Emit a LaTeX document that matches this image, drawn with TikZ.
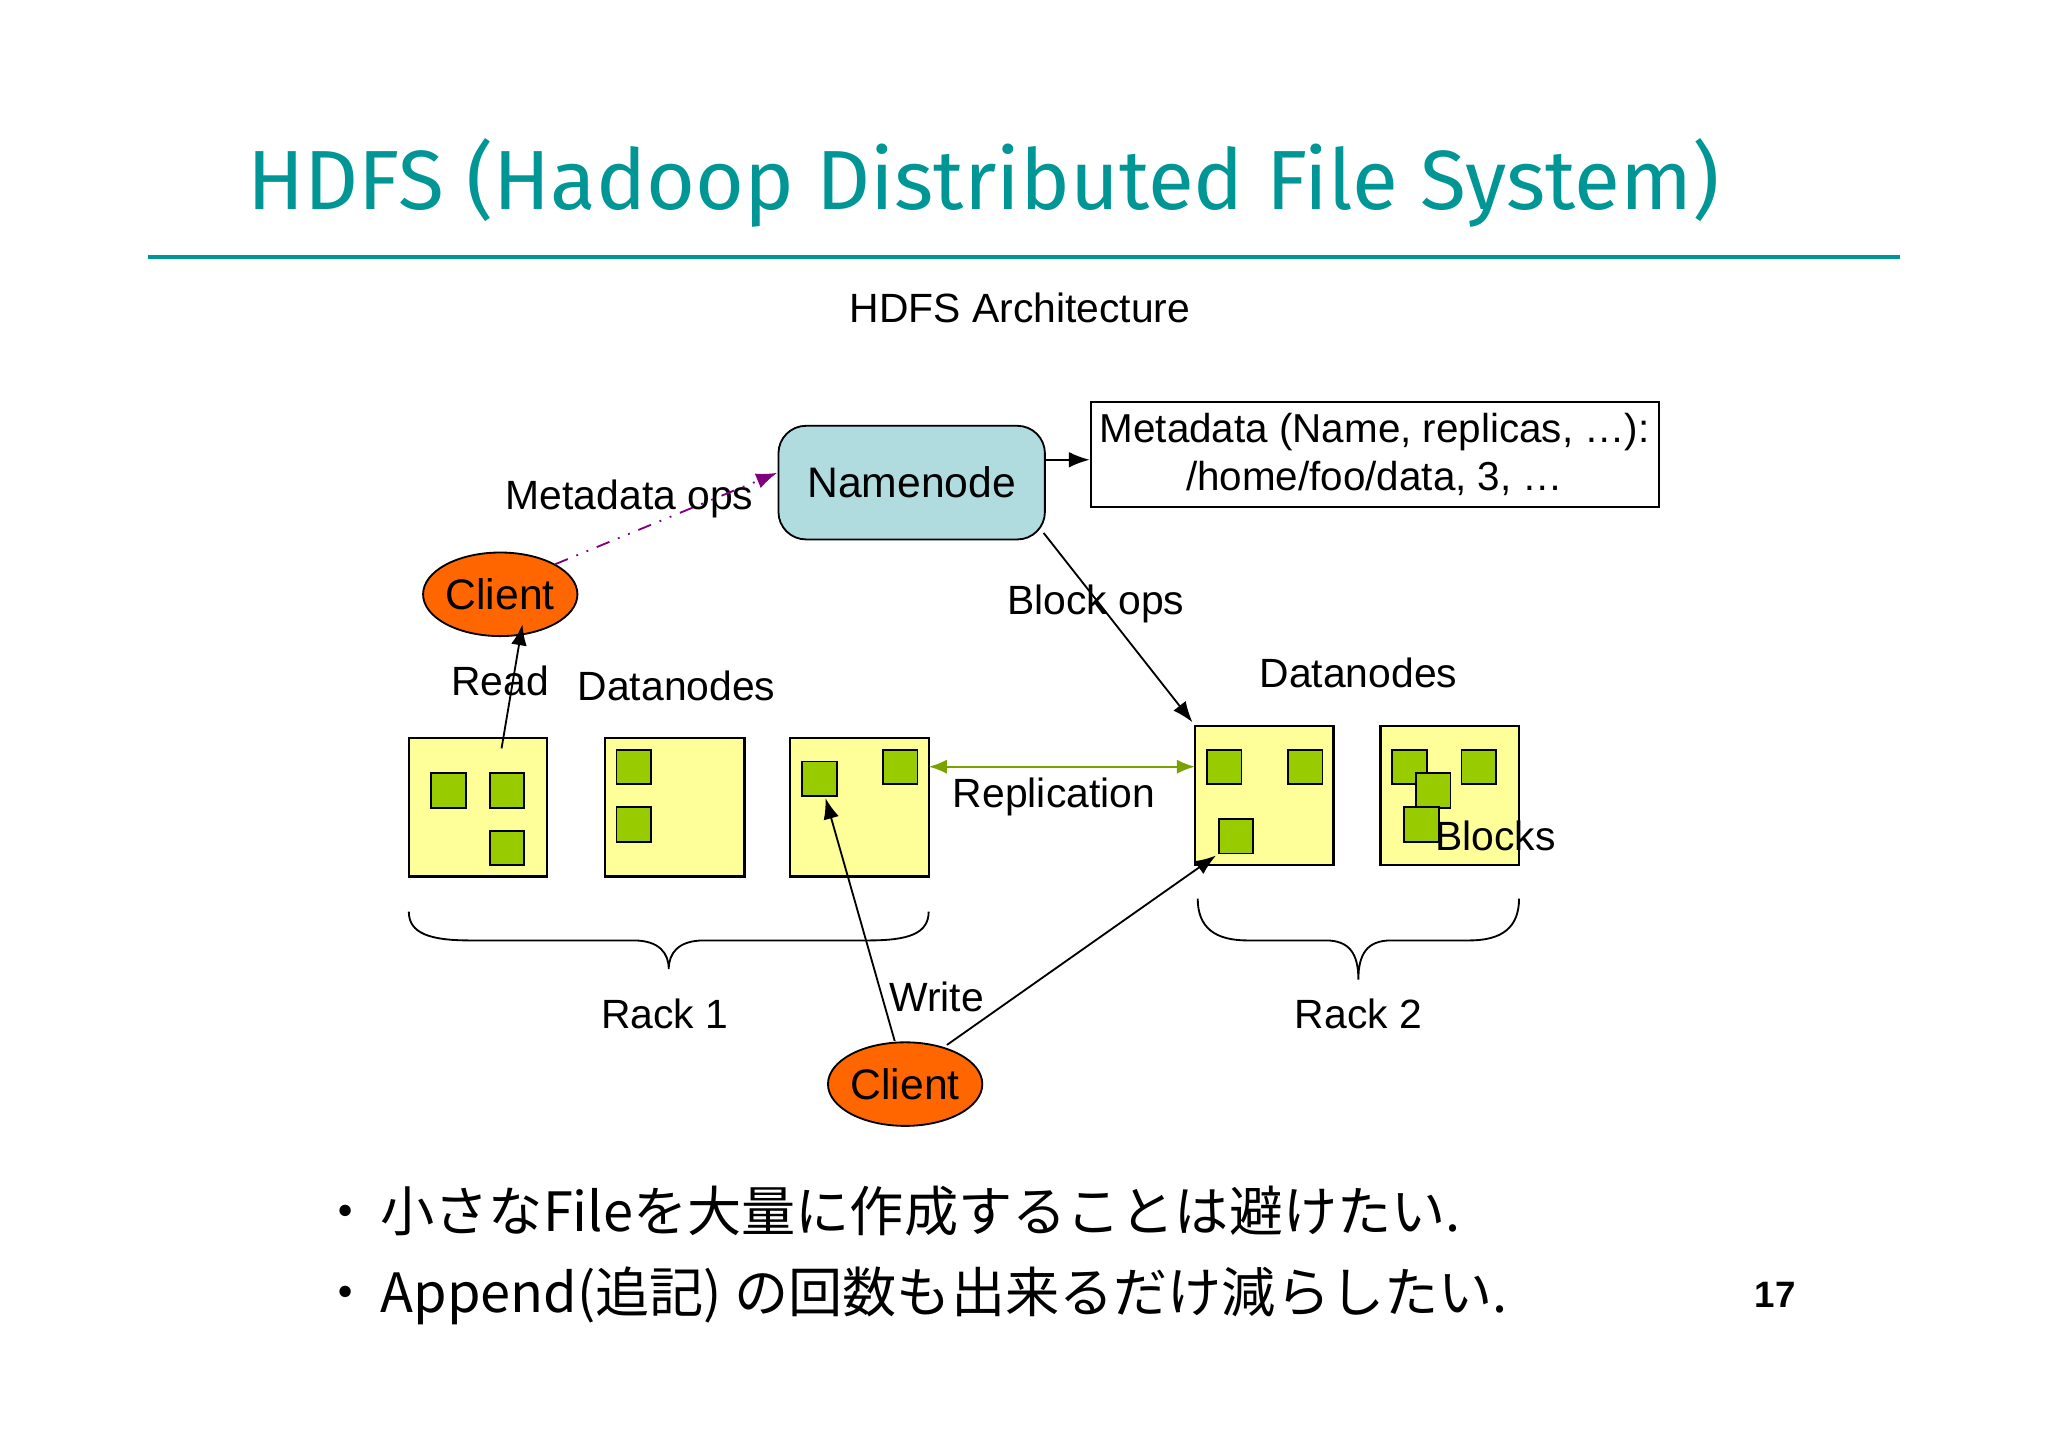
\documentclass[tikz,border=0pt]{standalone}
\usepackage{fontspec}
\setmainfont{Liberation Sans}
\newfontfamily\titlefont{Fira Sans}
\newfontfamily\jpfont{Noto Sans CJK JP}
\usetikzlibrary{arrows.meta,shapes.geometric}
\definecolor{teal1}{RGB}{0,150,150}
\definecolor{nnblue}{RGB}{176,220,224}
\definecolor{dnyel}{RGB}{255,255,153}
\definecolor{blk}{RGB}{153,204,0}
\definecolor{orng}{RGB}{255,102,0}
\definecolor{purp}{RGB}{128,0,128}
\tikzset{
 lbl/.style={font=\fontsize{8.9}{11}\selectfont,inner sep=0pt},
 dn/.style={draw=black,fill=dnyel,line width=0.5pt},
 blkbox/.style={draw=black,fill=blk,line width=0.4pt},
 client/.style={ellipse,draw=black,fill=orng,minimum width=1.06cm,minimum height=0.64cm,inner sep=0pt,font=\fontsize{9.3}{12}\selectfont},
 arr/.style={-{Latex[length=1.6mm,width=1.2mm]},line width=0.4pt},
}
\newcommand{\sq}[3]{\draw[blkbox] (#1/100,-#2/100) rectangle ++(0.265,-0.265) node[coordinate] (#3) {};}
\begin{document}
\begin{tikzpicture}
\useasboundingbox[fill=white] (0,0) rectangle (15.68,-11.08);
\node[text=teal1,font=\titlefont\fontsize{18.3}{22}\selectfont,inner sep=0pt] (title) at (7.53,-1.40) {HDFS (Hadoop Distributed File System)};
\draw[teal1,line width=0.8pt] (1.13,-1.97) coordinate (l1) -- (14.55,-1.97) coordinate (l2);
\node[lbl] (arch) at (7.81,-2.36) {HDFS Architecture};
\node[draw=black,fill=nnblue,rounded corners=6pt,minimum width=2.04cm,minimum height=0.87cm,font=\fontsize{9.3}{12}\selectfont] (nn) at (6.98,-3.695) {Namenode};
\node[draw=black,fill=white,minimum width=4.35cm,minimum height=0.80cm,align=center,font=\fontsize{8.8}{10.5}\selectfont,inner sep=0pt] (meta) at (10.525,-3.48) {Metadata (Name, replicas, \ldots):\\/home/foo/data, 3, \ldots};
\draw[arr] (nn.east |- 0,-3.52) -- (meta.west |- 0,-3.52);
\node[client] (c1) at (3.83,-4.55) {Client};
\node[client] (c2) at (6.93,-8.30) {Client};
% datanodes
\draw[dn] (3.13,-5.65) rectangle (4.19,-6.71) node[coordinate] (d1) {};
\draw[dn] (4.63,-5.65) rectangle (5.70,-6.71) node[coordinate] (d2) {};
\draw[dn] (6.05,-5.65) rectangle (7.11,-6.71) node[coordinate] (d3) {};
\draw[dn] (9.15,-5.56) rectangle (10.21,-6.62) node[coordinate] (d4) {};
\draw[dn] (10.57,-5.56) rectangle (11.63,-6.62) node[coordinate] (d5) {};
\sq{330}{592}{b1}\sq{375}{592}{b2}\sq{375}{636}{b3}
\sq{472}{574}{b4}\sq{472}{618}{b5}
\sq{614}{583}{b6}\sq{676}{574}{b7}
\sq{924}{574}{b8}\sq{986}{574}{b9}\sq{933}{627}{b10}
\sq{1066}{574}{b11}\sq{1119}{574}{b12}\sq{1084}{592}{b13}\sq{1075}{618}{b14}
% labels
\node[lbl] (lmo) at (4.82,-3.82) {Metadata ops};
\node[lbl] (lread) at (3.83,-5.21) {Read};
\node[lbl] (ldn1) at (5.18,-5.25) {Datanodes};
\node[lbl] (ldn2) at (10.40,-5.15) {Datanodes};
\node[lbl] (lbo) at (8.39,-4.62) {Block ops};
\node[lbl] (lrep) at (8.07,-6.10) {Replication};
\node[lbl] (lblk) at (11.45,-6.40) {Blocks};
\node[lbl] (lwr) at (7.17,-7.63) {Write};
\node[lbl] (lr1) at (5.09,-7.76) {Rack 1};
\node[lbl] (lr2) at (10.40,-7.76) {Rack 2};
% connectors
\draw[arr,purp,dash dot dot,line width=0.4pt] (4.25,-4.32) coordinate (m0) -- (5.95,-3.62) coordinate (m1);
\draw[arr] (3.84,-5.73) coordinate (r0) -- (4.00,-4.78) coordinate (r1);
\draw[arr] (7.99,-4.08) coordinate (bo0) -- (9.13,-5.53) coordinate (bo1);
\draw[{Latex[length=1.4mm,width=1.1mm]}-{Latex[length=1.4mm,width=1.1mm]},blk!80!black,line width=0.5pt] (7.11,-5.87) coordinate (rp0) -- (9.15,-5.87) coordinate (rp1);
\draw[arr] (6.85,-7.97) coordinate (w0) -- (6.32,-6.11) coordinate (w1);
\draw[arr] (7.25,-8.00) coordinate (w2) -- (9.31,-6.55) coordinate (w3);
% braces
\draw[line width=0.4pt] (3.13,-6.98) coordinate (br1) .. controls (3.13,-7.15) and (3.3,-7.2) .. (3.6,-7.2) -- (4.85,-7.2) .. controls (5.05,-7.2) and (5.12,-7.3) .. (5.12,-7.42)
 .. controls (5.12,-7.3) and (5.19,-7.2) .. (5.39,-7.2) -- (6.65,-7.2) .. controls (6.95,-7.2) and (7.11,-7.15) .. (7.11,-6.98) coordinate (br2);
\draw[line width=0.4pt] (9.17,-6.88) coordinate (br3) .. controls (9.17,-7.1) and (9.3,-7.2) .. (9.55,-7.2) -- (10.15,-7.2) .. controls (10.33,-7.2) and (10.40,-7.3) .. (10.40,-7.50)
 .. controls (10.40,-7.3) and (10.47,-7.2) .. (10.65,-7.2) -- (11.25,-7.2) .. controls (11.5,-7.2) and (11.63,-7.1) .. (11.63,-6.88) coordinate (br4);
% bullets
\node[anchor=west,inner sep=0pt,font=\jpfont\fontsize{11.8}{14}\selectfont] (bl1) at (2.43,-9.27) {・\hspace{0.15em}小さなFileを大量に作成することは避けたい.};
\node[anchor=west,inner sep=0pt,font=\jpfont\fontsize{11.8}{14}\selectfont] (bl2) at (2.43,-9.92) {・\hspace{0.15em}Append(追記) の回数も出来るだけ減らしたい.};
\node[font=\bfseries\fontsize{8}{10}\selectfont,inner sep=0pt] (pg) at (13.59,-9.91) {17};
\end{tikzpicture}
\end{document}
